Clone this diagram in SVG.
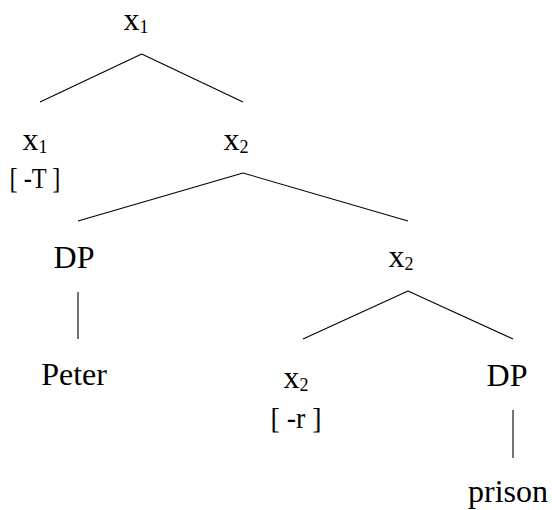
<svg xmlns="http://www.w3.org/2000/svg" width="552" height="510" viewBox="0 0 552 510">
<style>
text{font-size:32px;fill:#000;text-anchor:middle}
.sub{font-size:18px}
.feat{font-size:30px}
.edge{stroke:#000;stroke-width:1.1;fill:none}
</style>
<rect width="552" height="510" fill="#fff"/>
<g id="connectors">
<line class="edge" x1="141.7" y1="54" x2="40" y2="102"/>
<line class="edge" x1="141.7" y1="54" x2="243" y2="102"/>
<line class="edge" x1="243" y1="173" x2="78" y2="221"/>
<line class="edge" x1="243" y1="173" x2="408" y2="221"/>
<line class="edge" x1="78" y1="292" x2="78" y2="339"/>
<line class="edge" x1="408" y1="291" x2="303" y2="339"/>
<line class="edge" x1="408" y1="291" x2="513" y2="339"/>
<line class="edge" x1="513" y1="410" x2="513" y2="458"/>
</g>
<g font-family="Liberation Serif, DejaVu Serif, serif">
<g id="root"><text x="136" y="30">x<tspan class="sub" dy="3">1</tspan></text></g>
<g id="x1-left"><text x="35" y="150">x<tspan class="sub" dy="3">1</tspan></text>
<text class="feat" x="35" y="188" textLength="51" lengthAdjust="spacingAndGlyphs">[ -T ]</text></g>
<g id="x2-mid"><text x="236" y="150">x<tspan class="sub" dy="3">2</tspan></text></g>
<g id="dp-left"><text x="74" y="268">DP</text></g>
<g id="peter"><text x="74" y="385">Peter</text></g>
<g id="x2-right"><text x="401" y="267">x<tspan class="sub" dy="3">2</tspan></text></g>
<g id="x2-low"><text x="296" y="388">x<tspan class="sub" dy="3">2</tspan></text>
<text class="feat" x="296" y="428" textLength="51" lengthAdjust="spacingAndGlyphs">[ -r ]</text></g>
<g id="dp-right"><text x="507" y="386">DP</text></g>
<g id="prison"><text x="508" y="502">prison</text></g>
</g>
</svg>
